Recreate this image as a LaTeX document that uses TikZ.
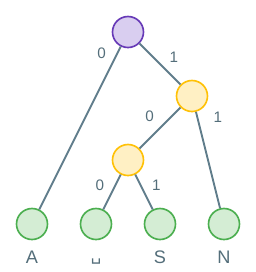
\documentclass[tikz,border=0pt]{standalone}
\usepackage{fontspec}
\setmainfont{Liberation Sans}
\newfontfamily\symfont{DejaVu Sans}
\usetikzlibrary{positioning}
\definecolor{edgegray}{HTML}{607D8B}
\definecolor{textgray}{HTML}{546E7A}
\definecolor{rootline}{HTML}{673AB7}
\definecolor{rootfill}{HTML}{D9CEF0}
\definecolor{innerline}{HTML}{FFC107}
\definecolor{innerfill}{HTML}{FFF0C4}
\definecolor{leafline}{HTML}{4CAF50}
\definecolor{leaffill}{HTML}{D4EDD4}

\begin{document}
\begin{tikzpicture}[x=0.03cm,y=-0.03cm,
  treenode/.style={circle,line width=1.4pt,minimum size=0.93cm,inner sep=0pt},
  rootnode/.style={treenode,draw=rootline,fill=rootfill},
  innernode/.style={treenode,draw=innerline,fill=innerfill},
  leafnode/.style={treenode,draw=leafline,fill=leaffill},
  branch/.style={line width=1.6pt,draw=edgegray},
  bit/.style={text=textgray,font=\fontsize{13}{13}\selectfont,inner sep=1pt},
  symbolname/.style={text=textgray,font=\fontsize{15.5}{15.5}\selectfont,
    inner sep=0pt,text height=11pt,text depth=0pt}]
\useasboundingbox (0,0) rectangle (256,272);
% tree nodes
\node[rootnode] (root) at (128,32) {};
\node[innernode] (n1) at (192,96) {};
\node[innernode] (n10) at (128,160) {};
\node[leafnode] (a) at (32,224) {};
\node[leafnode] (sp) at (96,224) {};
\node[leafnode] (s) at (160,224) {};
\node[leafnode] (n) at (224,224) {};
% branches with their bits
\draw[branch] (root) -- node[bit,pos=0.04,left=8pt] {0} (a);
\draw[branch] (root) -- node[bit,pos=0.6,above right=4pt] {1} (n1);
\draw[branch] (n1) -- node[bit,pos=0.5,above left=5pt] {0} (n10);
\draw[branch] (n1) -- node[bit,pos=0.06,right=12pt] {1} (n);
\draw[branch] (n10) -- node[bit,pos=0.3,left=8pt] {0} (sp);
\draw[branch] (n10) -- node[bit,pos=0.3,right=8pt] {1} (s);
% symbols under the leaves
\node[symbolname,below=0.3cm of a] (la) {A};
\node[symbolname,below=0.3cm of sp] (lsp) {\raisebox{2.5pt}{\symfont\fontsize{14}{14}\selectfont ␣}};
\node[symbolname,below=0.3cm of s] (ls) {S};
\node[symbolname,below=0.3cm of n] (ln) {N};
\end{tikzpicture}
\end{document}
